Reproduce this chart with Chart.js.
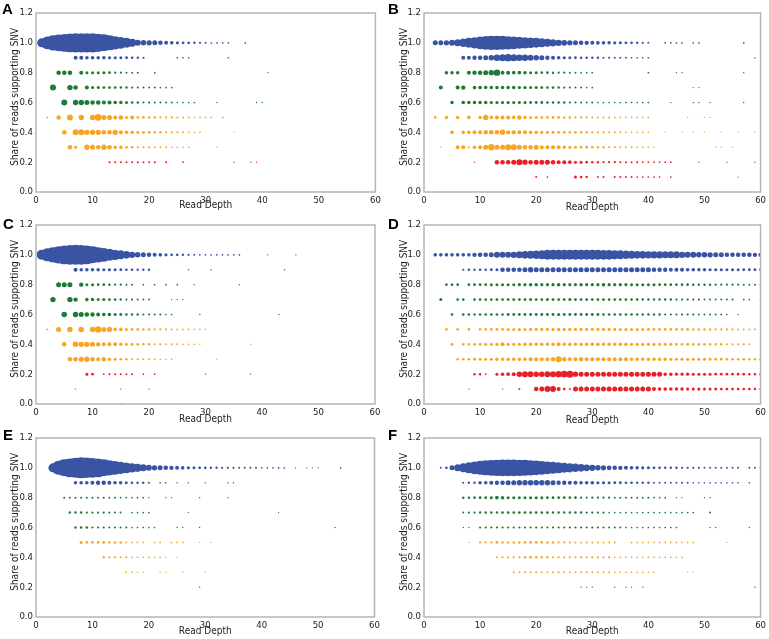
<!DOCTYPE html>
<html>
<head>
<meta charset="utf-8">
<script src="https://cdn.jsdelivr.net/npm/chart.js@4.4.1/dist/chart.umd.min.js"></script>
<style>
  body { margin: 0; background: #fff; width: 769px; height: 639px; position: relative; overflow: hidden; }
  .panel { position: absolute; }
  .tag { position: absolute; font: bold 15px "Liberation Sans", Arial, sans-serif; line-height: 15px; color: #000; }
</style>
</head>
<body>
<div class="panel" style="left:0;top:0"><canvas id="cA" width="385" height="212"></canvas></div>
<div class="panel" style="left:385px;top:0"><canvas id="cB" width="384" height="212"></canvas></div>
<div class="panel" style="left:0;top:212px"><canvas id="cC" width="385" height="213"></canvas></div>
<div class="panel" style="left:385px;top:212px"><canvas id="cD" width="384" height="213"></canvas></div>
<div class="panel" style="left:0;top:425px"><canvas id="cE" width="385" height="214"></canvas></div>
<div class="panel" style="left:385px;top:425px"><canvas id="cF" width="384" height="214"></canvas></div>
<div class="tag" style="left:2px;top:1px">A</div>
<div class="tag" style="left:388px;top:1px">B</div>
<div class="tag" style="left:3px;top:216px">C</div>
<div class="tag" style="left:388px;top:216px">D</div>
<div class="tag" style="left:3px;top:427px">E</div>
<div class="tag" style="left:388px;top:427px">F</div>
<script>
// rows of SNV share, top to bottom
const shares = [1.0, 0.9, 0.8, 0.7, 0.6, 0.5, 0.4, 0.3, 0.2, 0.1, 0.0];
const xTicks = [0, 10, 20, 30, 40, 50, 60];
const yTicks = [0.0, 0.2, 0.4, 0.6, 0.8, 1.0, 1.2];

// number of SNVs at each read depth (index 0 = depth 1), one array per share row
const countsA = [
  [81,159,231,282,317,346,369,369,369,369, 339,289,225,179,135,100,64,36,31,28, 25,21,16,13,10,8,7,6,5,4, 3,3,3,3,0,0,3],
  [0,0,0,0,0,0,16,16,13,13, 12,12,10,10,9,8,7,6,5,0, 0,0,0,0,3,3,3,0,0,0, 0,0,0,3],
  [0,0,0,21,21,21,0,16,9,9, 9,9,8,5,5,4,4,4,0,0, 3,0,0,0,0,0,0,0,0,0, 0,0,0,0,0,0,0,0,0,0, 2],
  [0,0,36,0,0,29,21,0,16,9, 9,8,8,7,6,6,5,5,4,4, 4,3,3,3],
  [0,0,0,0,36,0,29,29,25,21, 21,16,16,13,12,9,7,6,5,5, 4,4,4,4,3,3,3,3,0,0, 0,2,0,0,0,0,0,0,2,2],
  [0,3,0,21,0,36,0,29,0,29, 44,25,25,16,21,9,16,7,7,6, 6,5,5,5,4,4,4,3,3,3, 3,0,3],
  [0,0,0,0,21,0,36,36,29,29, 29,21,21,29,16,12,12,9,8,7, 6,6,5,5,4,4,3,3,3,0, 0,0,0,0,2],
  [0,0,0,0,0,21,9,0,29,25, 21,29,21,12,12,7,7,5,5,5, 4,4,4,3,3,3,3,0,0,0, 0,2],
  [0,0,0,0,0,0,0,0,0,0, 0,0,4,4,4,4,4,4,4,4, 4,0,4,0,0,3,0,0,0,0, 0,0,0,0,2,0,0,2,2],
  [],
  []
];

const countsB = [
  [0,25,25,29,36,49,71,100,130,159, 185,207,207,196,180,159,144,130,112,100, 81,64,52,41,34,29,25,21,19,16, 14,13,12,10,9,8,7,6,5,4, 0,0,3,3,3,3,0,3,3,0, 0,0,0,0,0,0,3],
  [0,0,0,0,0,0,16,16,19,21, 25,31,44,49,58,49,44,41,36,31, 25,19,16,13,10,9,8,7,7,6, 6,5,5,4,4,4,3,3,3,3, 0,0,0,0,0,0,0,0,0,0, 0,0,0,0,0,0,0,0,2],
  [0,0,0,12,12,12,0,16,19,21, 25,29,41,16,16,13,13,12,9,9, 7,7,6,5,5,4,4,3,3,3, 0,0,0,0,0,0,0,0,0,3, 0,0,0,0,2,2,0,0,0,0, 0,0,0,0,0,0,2],
  [0,0,16,0,0,16,19,0,13,13, 12,12,12,12,12,12,10,10,9,9, 8,7,7,6,5,5,4,4,3,3, 0,0,0,0,0,0,0,0,0,0, 0,0,0,0,0,0,0,2,2],
  [0,0,0,0,12,0,13,12,12,12, 12,10,10,10,10,9,9,9,8,8, 8,7,7,7,6,5,5,4,4,4, 3,3,3,3,3,3,3,3,3,3, 0,0,0,2,0,0,0,2,2,0, 2,0,0,0,0,0,2],
  [0,7,0,12,0,12,0,13,0,12, 29,13,16,16,16,13,21,12,9,9, 8,8,7,7,6,6,5,5,5,4, 4,4,4,3,3,3,3,3,3,3, 0,0,0,0,0,0,2,0,0,2, 2],
  [0,0,0,0,13,0,13,13,16,16, 21,21,21,31,19,19,16,16,13,12, 10,9,9,8,8,7,7,6,6,5, 5,5,4,4,4,3,3,3,3,3, 0,0,2,0,0,2,0,2,0,2, 0,0,2,0,0,2,0,0,2],
  [0,0,2,0,0,16,16,4,13,16, 25,41,25,25,36,36,25,21,21,25, 16,16,16,16,12,10,9,8,8,7, 6,6,5,5,4,4,4,3,3,3, 2,0,0,0,0,0,0,0,0,0, 0,2,2,0,2],
  [0,0,0,0,0,0,0,0,2,0, 0,0,21,21,21,25,36,29,21,25, 25,25,21,16,16,13,9,9,7,6, 6,5,5,5,4,4,4,4,3,3, 3,3,3,3,0,0,0,0,2,0, 0,0,0,2,0,0,0,0,2],
  [0,0,0,0,0,0,0,0,0,0, 0,0,0,0,0,0,0,0,0,4, 0,3,0,0,0,0,9,7,6,0, 4,4,0,4,4,4,4,3,3,3, 3,3,0,3,0,0,0,0,0,0, 0,0,0,0,0,2],
  []
];

const countsC = [
  [100,169,237,303,346,384,400,384,346,289, 237,185,144,108,81,58,41,31,25,21, 16,13,10,8,7,6,5,4,3,3, 3,3,3,3,3,3,0,0,0,0, 2,0,0,0,0,2],
  [0,0,0,0,0,0,16,13,13,12, 12,10,10,9,8,7,7,6,6,6, 0,0,0,0,0,0,2,0,0,0, 2,0,0,0,0,0,0,0,0,0, 0,0,0,2],
  [0,0,0,25,25,25,0,19,9,9, 7,7,6,5,5,4,4,0,3,0, 3,0,3,0,3,0,0,2,0,0, 0,0,0,0,0,2],
  [0,0,29,0,0,29,19,0,13,12, 9,9,8,7,6,5,5,4,4,4, 0,0,0,2,2,2],
  [0,0,0,0,31,0,29,25,21,19, 16,13,12,9,8,7,6,6,5,5, 4,4,3,3,0,0,0,0,2,0, 0,0,0,0,0,0,0,0,0,0, 0,0,2],
  [0,3,0,25,0,31,0,31,0,29, 41,25,29,13,13,9,8,7,6,6, 5,5,4,4,4,3,3,3,3,2],
  [0,0,0,0,21,0,31,29,29,25, 19,16,16,16,12,9,8,7,6,6, 5,5,4,4,4,3,3,3,2,0, 0,0,0,0,0,0,0,2],
  [0,0,0,0,0,21,21,25,29,21, 16,19,12,9,7,6,5,5,4,4, 4,3,3,3,0,0,0,0,0,0, 0,2],
  [0,0,0,0,0,0,0,0,9,7, 0,3,4,4,4,4,4,0,3,0, 3,0,0,0,0,0,0,0,0,2, 0,0,0,0,0,0,0,2],
  [0,0,0,0,0,0,2,0,0,0, 0,0,0,0,2,0,0,0,0,2],
  [0,0,0,0,0,0,0,0,0,0, 0,0,2,2,3]
];

const countsD = [
  [0,13,13,13,13,13,13,13,19,21, 21,25,36,36,36,41,49,58,64,71, 81,100,100,100,100,100,100,100,100,100, 100,92,92,85,81,71,64,58,58,55, 55,55,49,49,49,41,36,36,31,31, 29,25,25,21,21,21,21,21,19,19],
  [0,0,0,0,0,0,5,6,6,7, 7,8,9,21,21,21,21,25,29,25, 25,25,25,25,25,25,25,25,25,25, 25,25,25,25,25,25,25,25,25,25, 21,19,19,16,16,16,13,13,12,12, 10,10,10,9,9,9,8,8,8,8],
  [0,0,0,7,7,7,0,7,8,8, 8,9,9,9,9,9,10,10,12,12, 10,10,10,12,10,10,10,12,10,10, 10,12,10,10,10,10,9,9,9,9, 9,8,8,8,7,7,7,6,6,6, 6,5,5,5,5,5,4,4,4,4],
  [0,0,9,0,0,7,7,0,7,7, 7,7,8,8,8,8,8,8,9,8, 8,9,8,8,8,9,8,8,8,8, 8,8,7,7,7,7,7,7,6,6, 6,6,6,6,5,5,5,5,5,4, 4,4,4,4,4,0,3,3,0,3],
  [0,0,0,0,7,0,7,7,6,7, 7,7,7,7,8,8,8,8,8,8, 8,8,8,9,8,8,8,8,8,8, 8,7,7,7,7,7,7,6,6,6, 6,6,5,5,5,5,5,5,4,4, 4,4,4,3,0,2],
  [0,0,0,7,0,7,0,7,0,7, 7,7,8,8,9,9,9,9,10,10, 10,10,10,12,10,10,10,10,10,10, 10,10,10,10,9,9,9,9,9,8, 8,8,8,7,7,7,7,6,6,6, 6,5,5,5,5,4,4,4,4],
  [0,0,0,0,7,0,7,7,8,8, 9,9,10,16,10,10,10,12,12,12, 12,12,12,16,12,12,12,12,12,12, 12,12,12,12,12,12,10,10,10,10, 10,9,9,9,8,8,8,7,7,7, 6,6,6,5,5,5,5,4],
  [0,0,0,0,0,7,7,7,8,9, 9,10,12,12,13,13,13,13,16,16, 16,16,19,36,19,16,16,19,16,16, 16,16,16,16,16,16,13,13,13,13, 12,12,12,10,10,10,9,9,9,9, 8,8,8,7,7,7,7,6,6,6],
  [0,0,0,0,0,0,0,0,6,6, 3,0,9,12,13,16,31,36,36,31, 31,36,36,41,44,49,29,25,25,25, 25,25,25,25,25,25,25,25,25,25, 25,25,12,12,10,10,10,9,9,9, 9,8,8,8,7,7,7,6,6,6],
  [0,0,0,0,0,0,0,2,0,0, 0,0,0,2,0,0,4,0,0,21, 25,36,36,16,7,4,25,25,25,25, 25,25,25,25,25,25,25,25,25,25, 16,13,13,12,12,12,10,10,10,9, 9,9,8,8,8,7,7,7,6,6],
  []
];

const countsE = [
  [0,0,81,196,289,346,400,441,420,384, 346,289,237,190,150,116,88,66,49,36, 29,25,21,19,16,13,10,9,8,7, 6,6,5,5,5,4,4,4,4,3, 3,3,3,3,0,2,0,2,2,2, 0,0,0,3],
  [0,0,0,0,0,0,12,13,13,16, 19,19,16,13,12,9,7,6,6,5, 0,3,3,0,2,0,2,0,0,2, 0,0,0,2,2],
  [0,0,0,0,4,4,4,4,4,4, 4,4,4,4,3,3,3,3,3,2, 0,0,2,2,0,0,0,0,2,0, 0,0,0,2],
  [0,0,0,0,0,6,6,6,5,5, 5,5,5,4,4,0,3,3,3,3, 0,0,0,0,0,0,2,0,0,0, 0,0,0,0,0,0,0,0,0,0, 0,0,2],
  [0,0,0,0,0,0,6,6,7,5, 5,5,5,4,4,4,3,3,3,3, 3,0,0,0,2,2,0,0,2,0, 0,0,0,0,0,0,0,0,0,0, 0,0,0,0,0,0,0,0,0,0, 0,0,2],
  [0,0,0,0,0,0,0,9,7,7, 7,7,6,6,6,4,3,3,3,0, 3,3,0,3,3,3,0,0,2,0, 2],
  [0,0,0,0,0,0,0,0,0,0, 0,6,5,5,4,4,3,3,3,3, 3,3,2,0,2],
  [0,0,0,0,0,0,0,0,0,0, 0,0,0,0,0,3,3,2,2,0, 0,2,2,0,0,2,0,0,0,2],
  [0,0,0,0,0,0,0,0,0,0, 0,0,0,0,0,0,0,0,0,0, 0,0,0,0,0,0,0,0,2],
  [],
  []
];

const countsF = [
  [0,0,4,7,25,49,81,121,159,196, 225,250,269,276,276,276,269,256,237,213, 190,164,144,121,100,85,71,58,46,38, 31,27,23,21,19,16,13,12,10,9, 8,7,6,6,6,5,5,5,5,4, 4,4,4,4,4,4,0,4,4,4],
  [0,0,0,0,0,0,4,6,6,12, 13,16,19,21,25,25,29,29,31,31, 29,29,25,19,19,16,16,13,13,13, 10,10,9,8,8,7,7,6,6,6, 4,4,4,4,4,4,4,3,3,3, 3,3,3,3,3,3,0,3],
  [0,0,0,0,0,0,6,6,7,8, 8,9,13,12,9,9,9,9,9,9, 9,8,8,8,7,7,7,5,5,5, 5,5,5,4,4,4,4,4,4,4, 3,3,3,0,2,2,0,0,0,2, 2],
  [0,0,0,0,0,0,4,5,5,6, 6,6,6,7,7,7,7,7,7,7, 7,7,6,6,6,6,6,6,5,5, 5,5,3,3,3,3,3,3,3,3, 3,3,3,3,3,3,3,3,0,0, 4],
  [0,0,0,0,0,0,2,2,0,5, 5,5,5,5,5,5,5,5,5,5, 5,5,5,5,5,5,5,5,5,5, 5,5,4,4,4,3,3,3,3,3, 3,3,3,3,3,0,0,0,0,0, 2,2,0,0,0,0,0,2],
  [0,0,0,0,0,0,0,2,0,5, 5,5,7,6,6,6,6,7,7,7, 7,6,6,5,5,4,4,4,4,4, 4,4,4,4,0,0,3,3,3,3, 3,3,3,3,3,3,3,3,0,0, 0,0,0,2],
  [0,0,0,0,0,0,0,0,0,0, 0,0,4,5,5,5,5,6,8,6, 6,6,5,5,5,5,5,5,5,5, 5,5,5,3,3,3,3,3,3,3, 3,3,3,3,3,3],
  [0,0,0,0,0,0,0,0,0,0, 0,0,0,0,0,4,4,4,4,4, 4,4,4,4,4,4,4,4,4,4, 4,4,4,3,3,3,3,3,3,3, 3,0,0,0,0,0,2,2],
  [0,0,0,0,0,0,0,0,0,0, 0,0,0,0,0,0,0,0,0,0, 0,0,0,0,0,0,0,2,2,2, 0,0,0,2,0,2,2,0,2,0, 0,0,0,0,0,0,0,0,0,0, 0,0,0,0,0,0,0,0,2],
  [],
  []
];

const blue = "#3a54a4", green = "#1e7b36", orange = "#f6a623", red = "#e8202a";
const rowColors = [blue, blue, green, green, green, orange, orange, orange, red, red, red];
const textFont = "'DejaVu Sans Condensed', 'DejaVu Sans', sans-serif";
// leading no-break spaces nudge the centred axis title up a little, as in the figure
const yTitle = "\u00a0\u00a0\u00a0\u00a0Share of reads supporting SNV";

// box around the plot area, like matplotlib spines
const frame = {
  id: "frame",
  afterDatasetsDraw(chart) {
    const a = chart.chartArea;
    const ctx = chart.ctx;
    ctx.save();
    ctx.strokeStyle = "#b5b5b5";
    ctx.lineWidth = 1.5;
    ctx.strokeRect(a.left, a.top, a.right - a.left, a.bottom - a.top);
    ctx.restore();
  }
};

function makePanel(id, counts, plotLeft, plotRight, yTitlePad, xTitlePad) {
  const canvas = document.getElementById(id);
  const W = canvas.width, H = canvas.height;
  const datasets = counts.map((row, i) => ({
    data: row.map((n, k) => ({ x: k + 1, y: shares[i], r: Math.sqrt(n) / 2 })).filter(p => p.r > 0),
    backgroundColor: rowColors[i],
    borderWidth: 0,
    hoverBorderWidth: 0
  }));
  new Chart(canvas, {
    type: "bubble",
    data: { datasets: datasets },
    plugins: [frame],
    options: {
      responsive: false,
      animation: false,
      events: [],
      layout: { padding: { top: 13, right: W - plotRight, left: 0, bottom: 0 } },
      plugins: { legend: { display: false }, tooltip: { enabled: false } },
      scales: {
        x: {
          type: "linear", min: 0, max: 60,
          afterBuildTicks: s => { s.ticks = xTicks.map(v => ({ value: v })); },
          afterFit: s => { s.height = H - 192; },
          grid: { display: false, drawTicks: false },
          border: { display: false },
          ticks: { font: { family: textFont, size: 9.5 }, color: "#222", padding: 3, maxRotation: 0 },
          title: { display: true, text: "Read Depth", color: "#222",
            font: { family: textFont, size: 10, lineHeight: 1.0 }, padding: { top: 0, bottom: xTitlePad } }
        },
        y: {
          type: "linear", min: 0, max: 1.2,
          afterBuildTicks: s => { s.ticks = yTicks.map(v => ({ value: v })); },
          afterFit: s => { s.width = plotLeft; },
          grid: { display: false, drawTicks: false },
          border: { display: false },
          ticks: { font: { family: textFont, size: 9.5 }, color: "#222", padding: 3, callback: v => v.toFixed(1) },
          title: { display: true, text: yTitle, color: "#222",
            font: { family: textFont, size: 10, lineHeight: 1.0 }, padding: { top: yTitlePad, bottom: 0 } }
        }
      }
    }
  });
}

makePanel("cA", countsA, 36, 376, 10.5, 2);
makePanel("cB", countsB, 39, 377, 14, 0);
makePanel("cC", countsC, 36, 376, 10.5, 1);
makePanel("cD", countsD, 39, 377, 14, 0);
makePanel("cE", countsE, 36, 376, 10.5, 2.3);
makePanel("cF", countsF, 39, 377, 14, 2.3);
</script>
</body>
</html>
